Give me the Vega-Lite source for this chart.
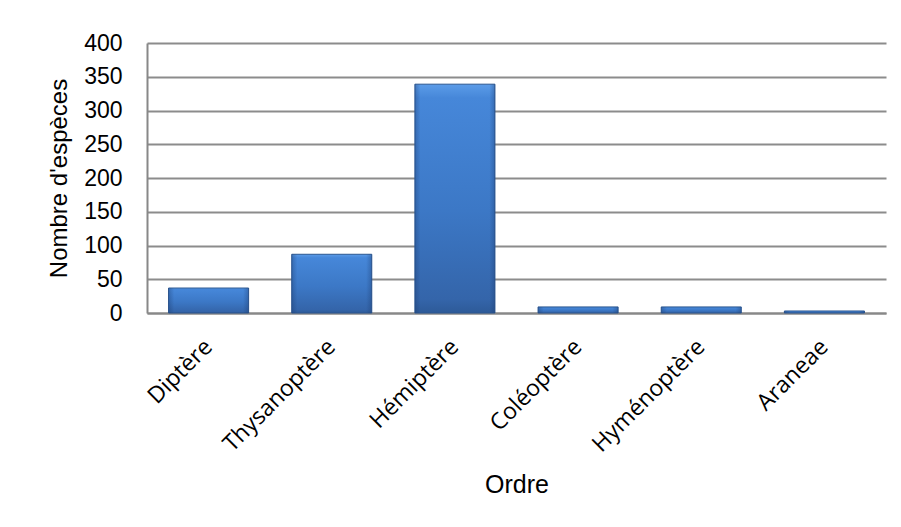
{
  "$schema": "https://vega.github.io/schema/vega-lite/v6.json",
  "autosize": {"type": "none"},
  "width": 739,
  "height": 270,
  "padding": {"left": 147, "top": 43, "right": 15, "bottom": 214},
  "background": "white",
  "data": {
    "values": [
      {"ordre": "Diptère", "especes": 37},
      {"ordre": "Thysanoptère", "especes": 87},
      {"ordre": "Hémiptère", "especes": 339},
      {"ordre": "Coléoptère", "especes": 9},
      {"ordre": "Hyménoptère", "especes": 9},
      {"ordre": "Araneae", "especes": 3}
    ]
  },
  "encoding": {
    "x": {
      "field": "ordre",
      "type": "nominal",
      "sort": null,
      "scale": {"paddingInner": 0.35, "paddingOuter": 0.175},
      "axis": {
        "title": "Ordre",
        "titleFont": "Liberation Sans",
        "titleFontSize": 25,
        "titleFontWeight": "normal",
        "titleColor": "#000000",
        "titleBaseline": "alphabetic",
        "titleY": 179,
        "labelAngle": -45,
        "labelAlign": "right",
        "labelBaseline": "middle",
        "labelFont": "Open Sans",
        "labelFontSize": 23,
        "labelColor": "#000000",
        "labelPadding": 30,
        "ticks": false,
        "domainColor": "#888888",
        "domainWidth": 2
      }
    },
    "y": {
      "field": "especes",
      "type": "quantitative",
      "scale": {"domain": [0, 400], "nice": false},
      "axis": {
        "title": "Nombre d'espèces",
        "titleFont": "Liberation Sans",
        "titleFontSize": 24,
        "titleFontWeight": "normal",
        "titleColor": "#000000",
        "titleBaseline": "middle",
        "titleX": -88,
        "values": [0, 50, 100, 150, 200, 250, 300, 350, 400],
        "labelFont": "Liberation Sans",
        "labelFontSize": 23,
        "labelColor": "#000000",
        "labelPadding": 25,
        "ticks": false,
        "grid": true,
        "gridColor": "#8c8c8c",
        "gridWidth": 2,
        "domainColor": "#888888",
        "domainWidth": 2
      }
    }
  },
  "layer": [
    {
      "mark": {
        "type": "bar",
        "fill": {
          "gradient": "linear",
          "x1": 0, "y1": 0, "x2": 0, "y2": 1,
          "stops": [
            {"offset": 0, "color": "#5c9ce8"},
            {"offset": 0.06, "color": "#4687d9"},
            {"offset": 0.55, "color": "#3c78c6"},
            {"offset": 0.94, "color": "#3465aa"},
            {"offset": 1, "color": "#2d5a98"}
          ]
        },
        "stroke": "#2c5791",
        "strokeWidth": 1
      }
    },
    {
      "mark": {
        "type": "bar",
        "fill": {
          "gradient": "linear",
          "x1": 0, "y1": 0, "x2": 1, "y2": 0,
          "stops": [
            {"offset": 0, "color": "rgba(25,55,105,0.35)"},
            {"offset": 0.07, "color": "rgba(25,55,105,0)"},
            {"offset": 0.93, "color": "rgba(25,55,105,0)"},
            {"offset": 1, "color": "rgba(25,55,105,0.35)"}
          ]
        },
        "strokeWidth": 0
      }
    }
  ],
  "config": {
    "view": {"stroke": null}
  }
}
